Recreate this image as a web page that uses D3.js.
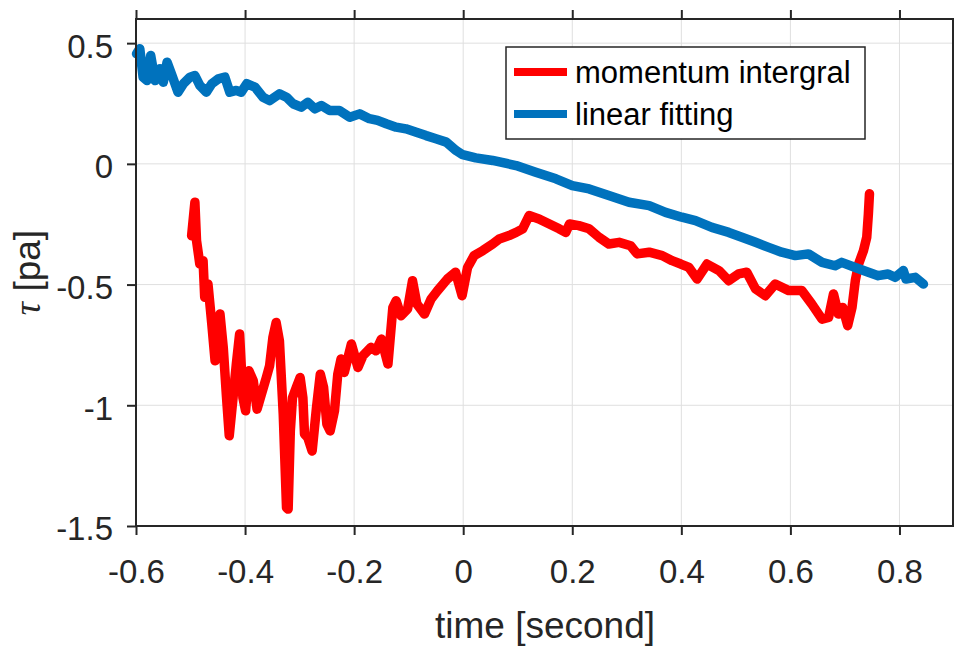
<!DOCTYPE html>
<html>
<head>
<meta charset="utf-8">
<script src="https://cdn.jsdelivr.net/npm/d3@7"></script>
<style>
    body { margin: 0; background: #fff; }
    text { font-family: "Liberation Sans", Arial, sans-serif; }
</style>
</head>
<body>
<svg id="chart" width="955" height="649"></svg>
<script>
// Series values: time [second] and tau [pa].
let blue_t = [-0.599, -0.593, -0.587, -0.580, -0.573, -0.565, -0.556, -0.550, -0.543, -0.535,
    -0.523, -0.513, -0.501, -0.492, -0.483, -0.471, -0.461, -0.449, -0.437, -0.428,
    -0.416, -0.407, -0.397, -0.382, -0.367, -0.355, -0.337, -0.324, -0.312, -0.297,
    -0.285, -0.272, -0.260, -0.245, -0.227, -0.208, -0.190, -0.172, -0.157, -0.141,
    -0.123, -0.105, -0.086, -0.068, -0.050, -0.031, -0.013, -0.001, 0.023, 0.054,
    0.097, 0.133, 0.170, 0.200, 0.231, 0.267, 0.304, 0.341, 0.371, 0.401,
    0.426, 0.456, 0.487, 0.511, 0.536, 0.560, 0.584, 0.609, 0.633, 0.658,
    0.682, 0.694, 0.719, 0.743, 0.761, 0.779, 0.792, 0.807, 0.812, 0.829, 0.844];
let blue_v = [0.456, 0.477, 0.359, 0.345, 0.449, 0.345, 0.394, 0.338, 0.421, 0.373,
    0.297, 0.332, 0.359, 0.366, 0.325, 0.297, 0.332, 0.352, 0.359, 0.297,
    0.304, 0.297, 0.332, 0.318, 0.276, 0.262, 0.290, 0.276, 0.249, 0.235,
    0.255, 0.228, 0.242, 0.221, 0.221, 0.193, 0.207, 0.187, 0.180, 0.166,
    0.152, 0.145, 0.131, 0.117, 0.104, 0.090, 0.055, 0.038, 0.025, 0.014,
    -0.007, -0.035, -0.062, -0.090, -0.104, -0.131, -0.159, -0.173, -0.201, -0.221,
    -0.235, -0.263, -0.284, -0.304, -0.325, -0.346, -0.366, -0.380, -0.373, -0.408,
    -0.422, -0.408, -0.429, -0.449, -0.463, -0.456, -0.470, -0.442, -0.477, -0.470, -0.498];

let red_t = [-0.498, -0.492, -0.489, -0.483, -0.477, -0.474, -0.468, -0.461, -0.455, -0.446,
    -0.440, -0.434, -0.429, -0.422, -0.416, -0.410, -0.404, -0.399, -0.393, -0.385,
    -0.378, -0.370, -0.361, -0.355, -0.349, -0.343, -0.337, -0.330, -0.324, -0.321,
    -0.317, -0.313, -0.306, -0.299, -0.294, -0.291, -0.285, -0.277, -0.269, -0.262,
    -0.256, -0.250, -0.244, -0.236, -0.230, -0.224, -0.218, -0.205, -0.193, -0.184,
    -0.169, -0.160, -0.150, -0.138, -0.129, -0.123, -0.114, -0.102, -0.093, -0.085,
    -0.071, -0.059, -0.047, -0.029, -0.014, -0.002, 0.008, 0.020, 0.036, 0.054,
    0.066, 0.084, 0.097, 0.109, 0.121, 0.139, 0.158, 0.176, 0.188, 0.195,
    0.212, 0.231, 0.249, 0.267, 0.286, 0.307, 0.319, 0.341, 0.365, 0.383,
    0.399, 0.414, 0.429, 0.447, 0.469, 0.487, 0.505, 0.520, 0.536, 0.554,
    0.572, 0.597, 0.621, 0.639, 0.658, 0.670, 0.679, 0.688, 0.696, 0.705,
    0.713, 0.719, 0.725, 0.734, 0.740, 0.743, 0.745];
let red_v = [-0.298, -0.159, -0.318, -0.415, -0.401, -0.553, -0.498, -0.663, -0.816, -0.622,
    -0.760, -0.968, -1.126, -0.968, -0.829, -0.705, -0.968, -1.023, -0.857, -0.898,
    -1.016, -0.954, -0.885, -0.836, -0.719, -0.657, -0.733, -1.037, -1.424, -1.430,
    -1.106, -0.968, -0.926, -0.885, -0.968, -1.119, -1.134, -1.189, -1.009, -0.871,
    -0.926, -1.078, -1.106, -1.023, -0.871, -0.808, -0.864, -0.746, -0.843, -0.795,
    -0.760, -0.774, -0.726, -0.829, -0.595, -0.567, -0.629, -0.601, -0.484, -0.580,
    -0.622, -0.560, -0.525, -0.477, -0.449, -0.546, -0.429, -0.380, -0.359, -0.332,
    -0.311, -0.297, -0.284, -0.269, -0.214, -0.228, -0.249, -0.269, -0.284, -0.249,
    -0.256, -0.269, -0.304, -0.332, -0.325, -0.339, -0.373, -0.366, -0.380, -0.401,
    -0.415, -0.429, -0.477, -0.415, -0.442, -0.484, -0.456, -0.449, -0.518, -0.546,
    -0.498, -0.525, -0.525, -0.580, -0.643, -0.636, -0.539, -0.622, -0.595, -0.670,
    -0.595, -0.484, -0.415, -0.359, -0.304, -0.207, -0.124];

let x_ticks = [-0.6, -0.4, -0.2, 0, 0.2, 0.4, 0.6, 0.8];
let y_ticks = [-1.5, -1, -0.5, 0, 0.5];
let series_names = ["momentum intergral", "linear fitting"];
let series_colors = ["#ff0000", "#0072bd"];

let svg = d3.select("#chart");
let plot_left = 136, plot_right = 954, plot_top = 19, plot_bottom = 526;
let axis_color = "#262626";

let x = d3.scaleLinear().domain([-0.6, 0.9]).range([plot_left, plot_right]);
let y = d3.scaleLinear().domain([-1.5, 0.6]).range([plot_bottom, plot_top]);

// Grid lines
svg.append("g").selectAll("line").data(x_ticks).enter().append("line")
    .attr("x1", d => x(d)).attr("x2", d => x(d))
    .attr("y1", plot_top).attr("y2", plot_bottom)
    .style("stroke", "#dfdfdf").style("stroke-width", 1);
svg.append("g").selectAll("line").data(y_ticks).enter().append("line")
    .attr("x1", plot_left).attr("x2", plot_right)
    .attr("y1", d => y(d)).attr("y2", d => y(d))
    .style("stroke", "#dfdfdf").style("stroke-width", 1);

// Data lines
let line = d3.line().x(d => x(d[0])).y(d => y(d[1]));
let series = [d3.zip(red_t, red_v), d3.zip(blue_t, blue_v)];
svg.append("g").selectAll("path").data(series).enter().append("path")
    .attr("d", line)
    .style("fill", "none")
    .style("stroke", (d, i) => series_colors[i])
    .style("stroke-width", 9.5)
    .style("stroke-linejoin", "round")
    .style("stroke-linecap", "round");

// Axes: bottom and left with labels, top with ticks only, right as plain line
let fmt = d => String(d);
let xAxis = svg.append("g").attr("transform", "translate(0," + plot_bottom + ")")
    .call(d3.axisBottom(x).tickValues(x_ticks).tickFormat(fmt).tickSize(9).tickPadding(25));
let xTop = svg.append("g").attr("transform", "translate(0," + plot_top + ")")
    .call(d3.axisTop(x).tickValues(x_ticks).tickFormat("").tickSize(9));
let yAxis = svg.append("g").attr("transform", "translate(" + plot_left + ",0)")
    .call(d3.axisLeft(y).tickValues(y_ticks).tickFormat(fmt).tickSize(9).tickPadding(14));

[xAxis, xTop, yAxis].forEach(function(g) {
    g.select(".domain").remove();
    g.selectAll(".tick line").style("stroke", axis_color).style("stroke-width", 2);
    g.selectAll(".tick text")
        .style("fill", axis_color)
        .style("font-size", "33px")
        .style("font-family", "'Liberation Sans', Arial, sans-serif");
});
yAxis.selectAll(".tick text").attr("dy", "0.42em");

// Box around the plot area
svg.append("rect")
    .attr("x", plot_left).attr("y", plot_top)
    .attr("width", plot_right - plot_left - 1).attr("height", plot_bottom - plot_top)
    .style("fill", "none").style("stroke", axis_color).style("stroke-width", 2);

// Axis labels
svg.append("text")
    .attr("x", (plot_left + plot_right) / 2).attr("y", 638)
    .attr("text-anchor", "middle")
    .style("font-size", "37px").style("fill", axis_color)
    .text("time [second]");

let ylab = svg.append("text")
    .attr("transform", "translate(40," + ((plot_top + plot_bottom) / 2) + ") rotate(-90)")
    .attr("text-anchor", "middle")
    .style("font-size", "37px").style("fill", axis_color);
ylab.append("tspan").style("font-style", "italic").style("font-family", "'Liberation Serif', serif").text("τ");
ylab.append("tspan").text(" [pa]");

// Legend
let legend = svg.append("g");
legend.append("rect")
    .attr("x", 506).attr("y", 47)
    .attr("width", 359).attr("height", 92)
    .style("fill", "#fff").style("stroke", axis_color).style("stroke-width", 1.5);
let items = legend.selectAll(".item").data(series_names).enter().append("g")
    .attr("transform", (d, i) => "translate(0," + (72 + i * 42) + ")");
items.append("line")
    .attr("x1", 514).attr("x2", 567).attr("y1", 0).attr("y2", 0)
    .style("stroke", (d, i) => series_colors[i]).style("stroke-width", 8);
items.append("text")
    .attr("x", 575).attr("y", 0)
    .attr("dominant-baseline", "central")
    .style("font-size", "31px").style("fill", "#000")
    .text(d => d);
</script>
</body>
</html>
